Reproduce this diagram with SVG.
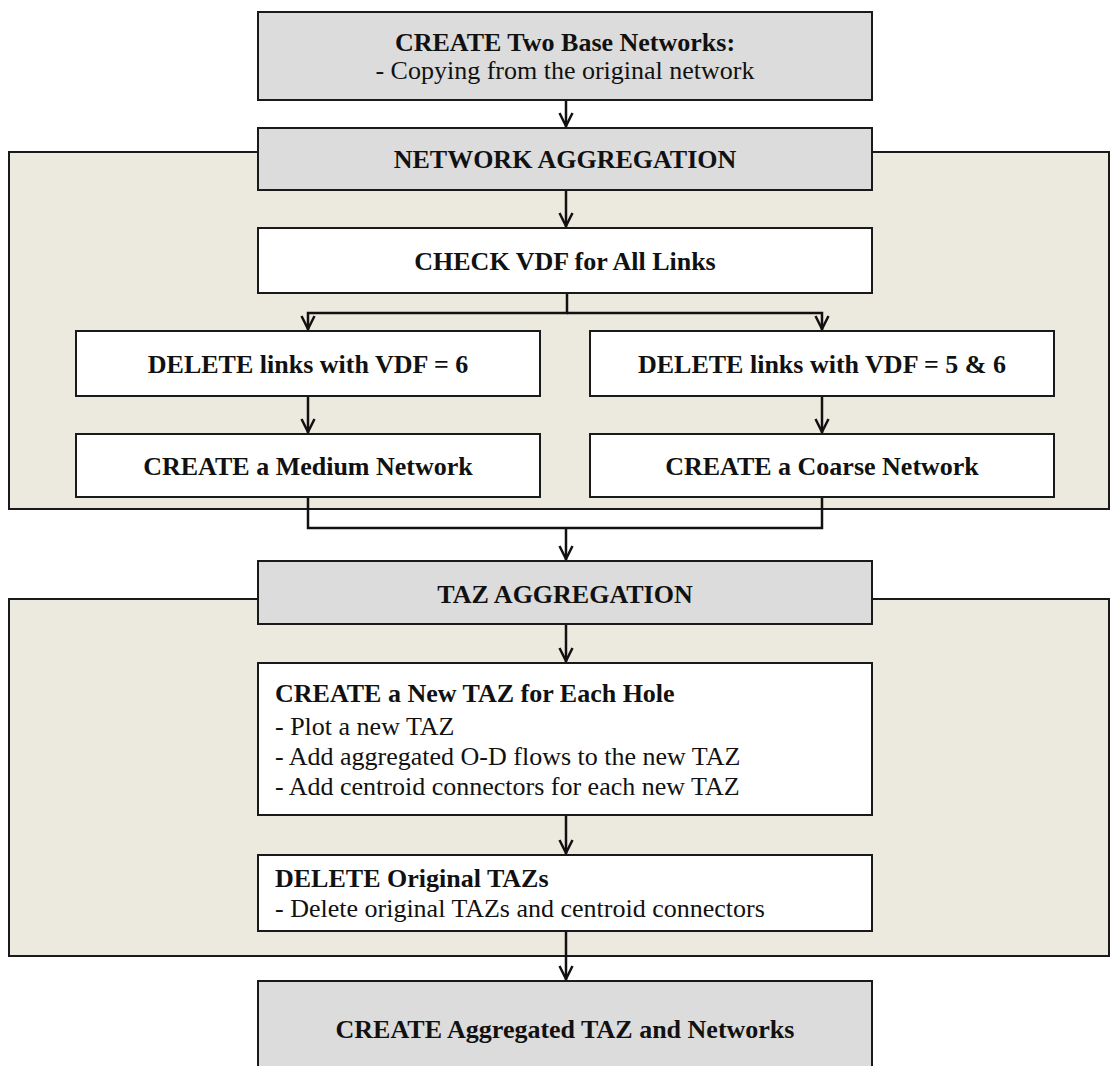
<svg xmlns="http://www.w3.org/2000/svg" width="1110" height="1066" viewBox="0 0 1110 1066">
<defs>
<style>
.band{fill:#ece9df;stroke:#1a1a1a;stroke-width:2}
.gray{fill:#dcdcdc;stroke:#1a1a1a;stroke-width:2}
.white{fill:#ffffff;stroke:#1a1a1a;stroke-width:2}
.t{font-family:"Liberation Serif","Times New Roman",serif;font-size:26px;fill:#111}
.b{font-weight:bold}
.c{text-anchor:middle}
.conn{fill:none;stroke:#111;stroke-width:2.5}
</style>
<marker id="ah" markerUnits="userSpaceOnUse" viewBox="-15 -8 17 16" markerWidth="17" markerHeight="16" refX="0" refY="0" orient="auto" overflow="visible">
<path d="M -14 -6.5 L -1 0 L -14 6.5" fill="none" stroke="#111" stroke-width="2.5"/>
</marker>
</defs>
<rect width="1110" height="1066" fill="#ffffff"/>
<g id="band-network">
<rect class="band" x="9" y="152" width="1100" height="357"/>
</g>
<g id="band-taz">
<rect class="band" x="9" y="599" width="1100" height="357"/>
</g>
<g id="connectors">
<line class="conn" x1="566" y1="100" x2="566" y2="127" marker-end="url(#ah)"/>
<line class="conn" x1="566" y1="190" x2="566" y2="227" marker-end="url(#ah)"/>
<polyline class="conn" points="567,293 567,313 308,313 308,330" marker-end="url(#ah)"/>
<polyline class="conn" points="567,313 822,313 822,330" marker-end="url(#ah)"/>
<line class="conn" x1="308" y1="396" x2="308" y2="433" marker-end="url(#ah)"/>
<line class="conn" x1="822" y1="396" x2="822" y2="433" marker-end="url(#ah)"/>
<polyline class="conn" points="308,497 308,528 822,528 822,497"/>
<line class="conn" x1="566" y1="528" x2="566" y2="560" marker-end="url(#ah)"/>
<line class="conn" x1="566" y1="624" x2="566" y2="662" marker-end="url(#ah)"/>
<line class="conn" x1="566" y1="815" x2="566" y2="854" marker-end="url(#ah)"/>
<line class="conn" x1="566" y1="931" x2="566" y2="980" marker-end="url(#ah)"/>
</g>
<g id="create-base">
<rect class="gray" x="258" y="12" width="614" height="88"/>
<text class="t b c" x="565" y="51">CREATE Two Base Networks:</text>
<text class="t c" x="565" y="79">- Copying from the original network</text>
</g>
<g id="network-aggregation">
<rect class="gray" x="258" y="128" width="614" height="62"/>
<text class="t b c" x="565" y="168">NETWORK AGGREGATION</text>
</g>
<g id="check-vdf">
<rect class="white" x="258" y="228" width="614" height="65"/>
<text class="t b c" x="565" y="270">CHECK VDF for All Links</text>
</g>
<g id="delete-vdf6">
<rect class="white" x="76" y="331" width="464" height="65"/>
<text class="t b c" x="308" y="373">DELETE links with VDF = 6</text>
</g>
<g id="delete-vdf56">
<rect class="white" x="590" y="331" width="464" height="65"/>
<text class="t b c" x="822" y="373">DELETE links with VDF = 5 &amp; 6</text>
</g>
<g id="medium-network">
<rect class="white" x="76" y="434" width="464" height="63"/>
<text class="t b c" x="308" y="475">CREATE a Medium Network</text>
</g>
<g id="coarse-network">
<rect class="white" x="590" y="434" width="464" height="63"/>
<text class="t b c" x="822" y="475">CREATE a Coarse Network</text>
</g>
<g id="taz-aggregation">
<rect class="gray" x="258" y="561" width="614" height="63"/>
<text class="t b c" x="565" y="603">TAZ AGGREGATION</text>
</g>
<g id="create-new-taz">
<rect class="white" x="258" y="663" width="614" height="152"/>
<text class="t b" x="275" y="702">CREATE a New TAZ for Each Hole</text>
<text class="t" x="275" y="735">- Plot a new TAZ</text>
<text class="t" x="275" y="765">- Add aggregated O-D flows to the new TAZ</text>
<text class="t" x="275" y="795">- Add centroid connectors for each new TAZ</text>
</g>
<g id="delete-original-taz">
<rect class="white" x="258" y="855" width="614" height="76"/>
<text class="t b" x="275" y="887">DELETE Original TAZs</text>
<text class="t" x="275" y="917">- Delete original TAZs and centroid connectors</text>
</g>
<g id="create-aggregated">
<rect class="gray" x="258" y="981" width="614" height="100"/>
<text class="t b c" x="565" y="1038">CREATE Aggregated TAZ and Networks</text>
</g>
</svg>
